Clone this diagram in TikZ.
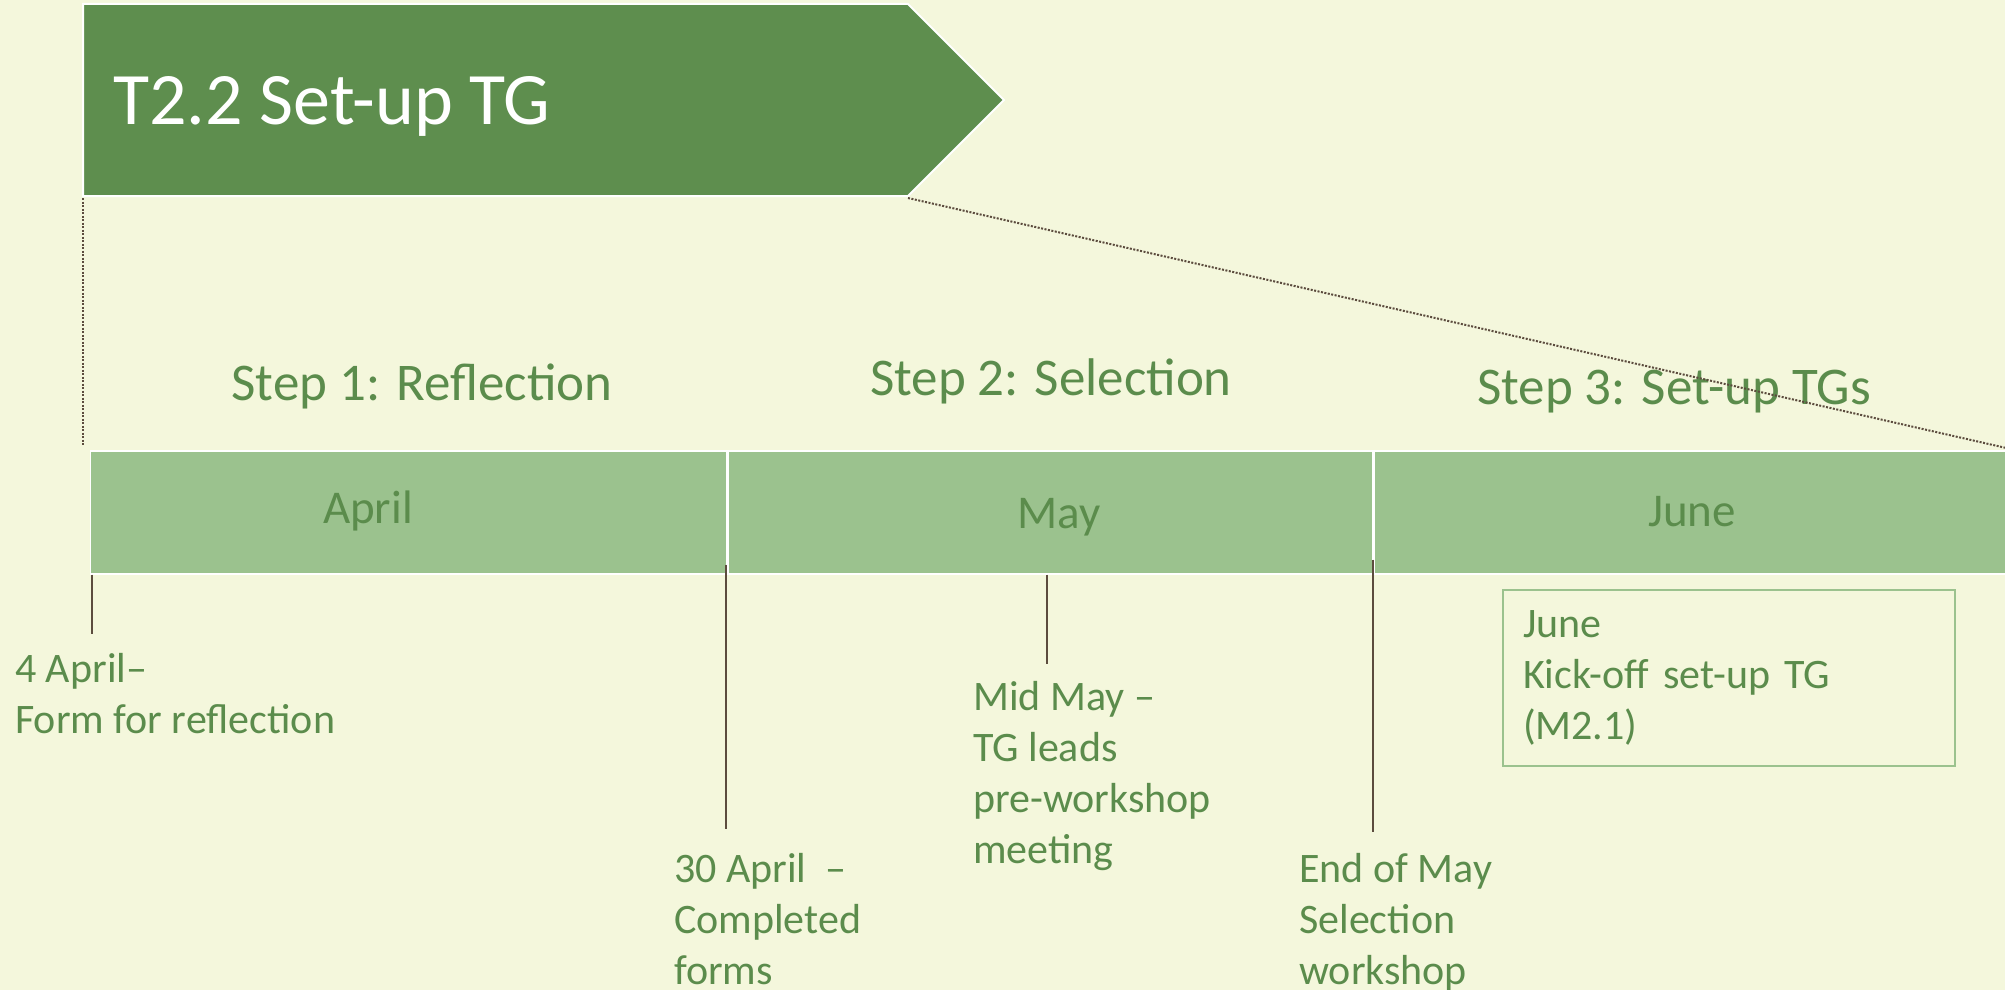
\documentclass[tikz,border=0pt]{standalone}
\usepackage{fontspec}
\setmainfont{Carlito}
\usetikzlibrary{positioning}
\definecolor{bg}{RGB}{244, 247, 220}
\definecolor{dg}{RGB}{94, 142, 78}
\definecolor{lg}{RGB}{155, 194, 142}
\definecolor{tg}{RGB}{91, 140, 76}
\definecolor{ln}{RGB}{92, 76, 62}

\begin{document}
\begin{tikzpicture}[
  bar/.style={fill=lg, draw=white, line width=1.5pt, minimum height=123pt, inner sep=0pt},
  month/.style={anchor=base, text=tg, font=\fontsize{47}{56}\selectfont},
  steplabel/.style={anchor=base, text=tg, font=\fontsize{53}{64}\selectfont},
  note/.style={anchor=base west, align=left, inner sep=0pt, text=tg, font=\fontsize{42}{51}\selectfont},
  tick/.style={draw=ln, line width=1.2pt},
  guide/.style={draw=ln, line width=2pt, dash pattern=on 2pt off 1.5pt}
]
\fill [bg] (0pt, 0pt) rectangle (2005pt, -990pt);
\useasboundingbox (0pt, 0pt) rectangle (2005pt, -990pt);
% banner
\filldraw [fill=dg, draw=white, line width=2pt] (83pt, -4pt) -- (908pt, -4pt) -- (1004pt, -100pt) -- (908pt, -196pt) -- (83pt, -196pt) -- cycle;
\coordinate (bansw) at (83pt, -198pt);
\coordinate (banse) at (908pt, -198pt);
\node (title) [anchor=base west, inner sep=0pt, text=white, font=\fontsize{74}{88}\selectfont] at (113pt, -124pt) {T2.2 Set-up TG};
% month bars
\node (apr) [bar, anchor=north west, minimum width=636pt] at (89.5pt, -450pt) {};
\node (may) [bar, minimum width=645pt, right=0pt of apr] {};
\node (jun) [bar, minimum width=640pt, right=0pt of may] {};
\node (aprl) [month] at (368pt, -523pt) {April};
\node (mayl) [month] at (1059pt, -528pt) {May};
\node (junl) [month] at (1692pt, -526pt) {June};
% steps
\node (s1) [steplabel] at (422pt, -400pt) {Step 1: Reflection};
\node (s2) [steplabel] at (1051pt, -395pt) {Step 2: Selection};
\node (s3) [steplabel] at (1674pt, -404pt) {Step 3: Set-up TGs};
% zoom lines
\draw [guide, shorten >=5pt] (bansw) -- (bansw |- apr.north);
\draw [guide] (banse) -- (jun.north east);
% milestones (base = last line)
\node (n1) [note] at (15pt, -733pt) {4 April–\\Form for reflection};
\node (n2) [note] at (674pt, -984pt) {30 April\ \ –\\Completed\\forms};
\node (n3) [note] at (973pt, -863pt) {Mid May –\\TG leads\\pre-workshop\\meeting};
\node (n4) [note] at (1299pt, -984pt) {End of May\\Selection\\workshop};
\node (n5) [anchor=north west, draw=lg, line width=2pt, inner xsep=20pt, inner ysep=0pt, text width=412pt, minimum height=176pt, align=left, text=tg, font=\fontsize{42}{51}\selectfont] at (1502pt, -589pt) {June\\Kick-off set-up TG\\(M2.1)};
\coordinate (t1) at (92pt, -634pt);
\coordinate (t2) at (726pt, -829pt);
\coordinate (t3) at (1047pt, -664pt);
\coordinate (t4) at (1373pt, -832pt);
\draw [tick] (t1 |- apr.south) -- (t1);
\draw [tick, shorten <=-10pt] (t2 |- apr.south) -- (t2);
\draw [tick] (t3 |- may.south) -- (t3);
\draw [tick, shorten <=-15pt] (t4 |- may.south) -- (t4);
\end{tikzpicture}
\end{document}
